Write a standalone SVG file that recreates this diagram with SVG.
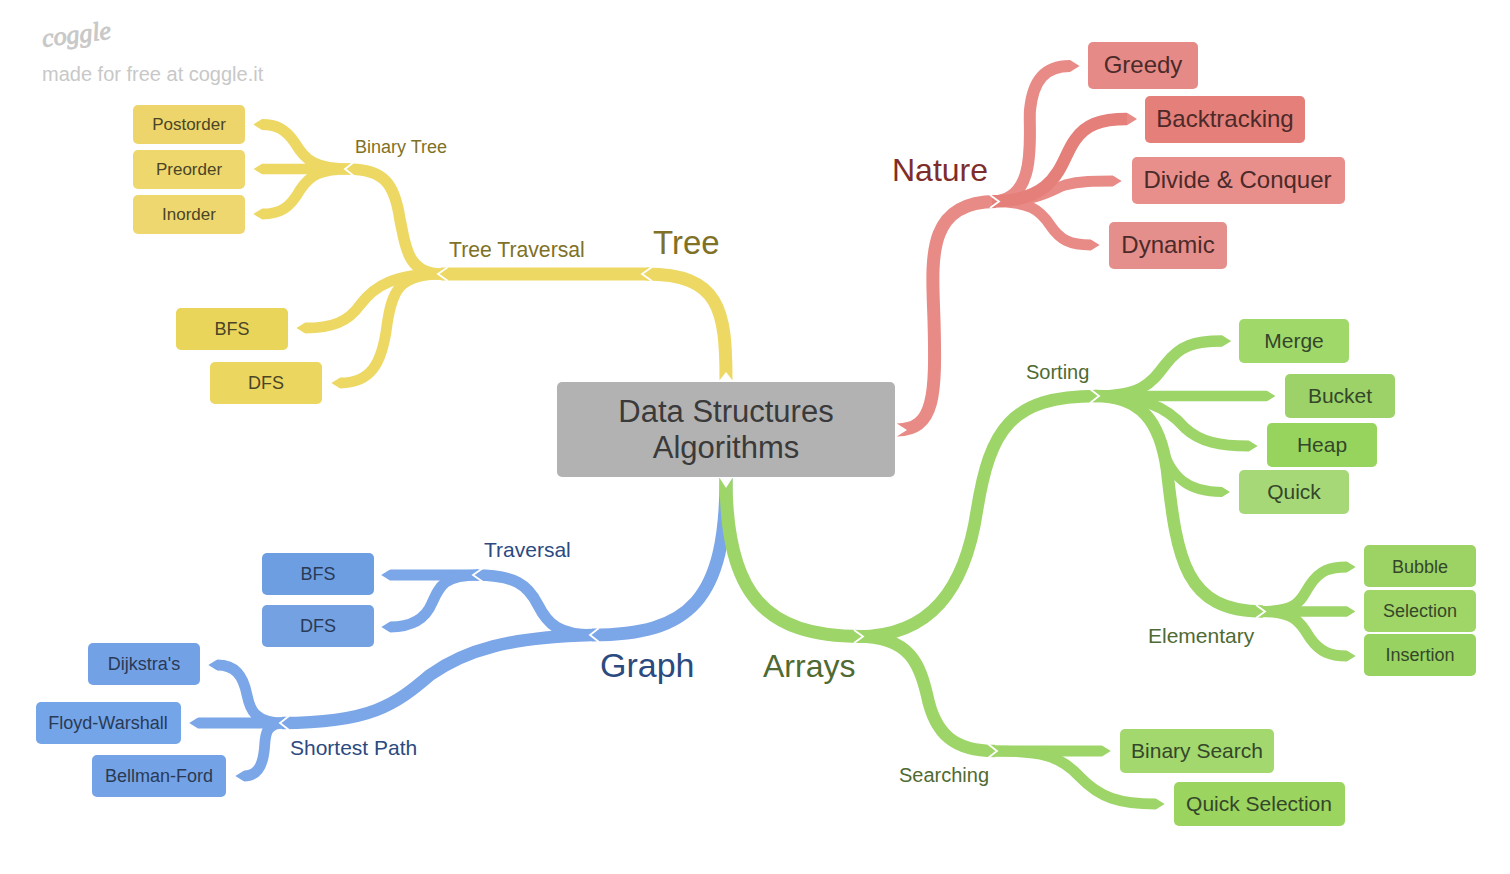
<svg xmlns="http://www.w3.org/2000/svg" width="1510" height="874" viewBox="0 0 1510 874">
<style>
text{font-family:"Liberation Sans",Arial,sans-serif;text-anchor:middle}
.c{fill:none;stroke-linecap:butt}
.y{stroke:#edd864}.r{stroke:#e88a86}.b{stroke:#7ba6e8}.g{stroke:#9dd568}
.chev{fill:none;stroke:#fff;stroke-width:1.8}
.notch{fill:#fff}
.lbl{text-anchor:start}
.ty{fill:#7f7126}.tr{fill:#7f2d2b}.tb{fill:#2b4a7f}.tg{fill:#4f6a33}
.ny{fill:#4b4526}.nr{fill:#4c2a29}.nb{fill:#2a3a55}.ng{fill:#34472a}
</style>
<defs>
<marker id="hy" markerUnits="strokeWidth" viewBox="0 -0.5 0.8 1" markerWidth="0.8" markerHeight="1" refX="0" refY="0" orient="auto"><polygon points="0,-0.5 0.8,0 0,0.5" fill="#edd864"/></marker>
<marker id="hr" markerUnits="strokeWidth" viewBox="0 -0.5 0.8 1" markerWidth="0.8" markerHeight="1" refX="0" refY="0" orient="auto"><polygon points="0,-0.5 0.8,0 0,0.5" fill="#e88a86"/></marker>
<marker id="hb" markerUnits="strokeWidth" viewBox="0 -0.5 0.8 1" markerWidth="0.8" markerHeight="1" refX="0" refY="0" orient="auto"><polygon points="0,-0.5 0.8,0 0,0.5" fill="#7ba6e8"/></marker>
<marker id="hg" markerUnits="strokeWidth" viewBox="0 -0.5 0.8 1" markerWidth="0.8" markerHeight="1" refX="0" refY="0" orient="auto"><polygon points="0,-0.5 0.8,0 0,0.5" fill="#9dd568"/></marker>
</defs>
<g id="connectors">
<path class="c b" stroke-width="13" d="M726 478 C726 600 690 635 592 635"/>
<path class="c b" stroke-width="11.500" d="M592 635 C560 635 548 625 538 605 C528 585 515 575 476 575"/>
<path class="c b" stroke-width="12.500" d="M592 635 C510 637 465 650 430 675 C395 705 370 723 282 723"/>
<path class="c b" stroke-width="11" marker-end="url(#hb)" d="M478 575 L390 575"/>
<path class="c b" stroke-width="10.800" marker-end="url(#hb)" d="M478 575 C445 575 440 585 432 603 C425 620 410 627 390 627"/>
<path class="c b" stroke-width="10.800" marker-end="url(#hb)" d="M284 723 C255 723 250 710 247 695 C243 675 235 665 217 665"/>
<path class="c b" stroke-width="11" marker-end="url(#hb)" d="M284 723 L198 723"/>
<path class="c b" stroke-width="10.800" marker-end="url(#hb)" d="M284 723 C262 723 266 740 264 752 C262 768 256 776 244 776"/>
<path class="c y" stroke-width="13" d="M726 380 C726 310 720 274 646 274"/>
<path class="c y" stroke-width="13" d="M650 274 L441 274"/>
<path class="c y" stroke-width="11.500" d="M441 274 C405 274 405 240 400 220 C395 185 385 169 348 169"/>
<path class="c y" stroke-width="10.800" marker-end="url(#hy)" d="M441 274 C395 274 375 285 360 305 C348 322 332 328 305 328"/>
<path class="c y" stroke-width="10.800" marker-end="url(#hy)" d="M441 274 C400 274 392 290 387 325 C382 365 370 383 340 383"/>
<path class="c y" stroke-width="10.800" marker-end="url(#hy)" d="M350 169 C315 169 305 160 295 143 C285 128 275 124.500 262 124.500"/>
<path class="c y" stroke-width="10.500" marker-end="url(#hy)" d="M350 169 L262 169"/>
<path class="c y" stroke-width="10.800" marker-end="url(#hy)" d="M350 169 C320 169 310 175 300 190 C290 208 280 214 262 214"/>
<path class="c r" stroke-width="13" d="M897 430 C935 430 936 395 934 320 C932 260 925 201.500 996 201.500"/>
<path class="c r" stroke-width="12" marker-end="url(#hr)" d="M992 201.500 C1040 201.500 1028 130 1030 110 C1033 80 1045 66 1070 66"/>
<path class="c r" stroke-width="10.800" marker-end="url(#hr)" d="M992 201.500 C1040 201.500 1050 190 1065 185 C1080 181 1095 181 1113 181"/>
<path class="c r" stroke-width="10.800" marker-end="url(#hr)" d="M992 201.500 C1030 201.500 1040 210 1050 225 C1060 240 1070 245 1091 245"/>
<path class="c r" style="stroke:#e57f7a" stroke-width="12.500" marker-end="url(#hr)" d="M992 201.500 C1060 201.500 1060 160 1075 140 C1085 125 1100 119 1127 119"/>
<path class="c g" stroke-width="13" d="M726 478 C726 595 765 636.500 861 636.500"/>
<path class="c g" stroke-width="12.500" d="M858 636.500 C930 636.500 965 590 977 510 C990 430 1010 396 1097 396"/>
<path class="c g" stroke-width="12.500" d="M858 636.500 C910 636.500 920 665 927 695 C935 735 955 751 995 751"/>
<path class="c g" stroke-width="12.500" d="M1095 396 C1140 396 1160 420 1167 470 C1177 560 1185 611.500 1263 611.500"/>
<path class="c g" stroke-width="11.500" marker-end="url(#hg)" d="M1095 396 C1140 396 1150 385 1165 365 C1180 345 1195 341 1222 341"/>
<path class="c g" stroke-width="10.500" marker-end="url(#hg)" d="M1095 396 L1267 396"/>
<path class="c g" stroke-width="10.800" marker-end="url(#hg)" d="M1095 396 C1140 396 1165 405 1185 428 C1200 442 1220 446 1249 446"/>
<path class="c g" stroke-width="10" marker-end="url(#hg)" d="M1160 440 C1170 480 1190 492 1222 492"/>
<path class="c g" stroke-width="10.800" marker-end="url(#hg)" d="M1260 611.500 C1300 611.500 1300 600 1310 585 C1320 570 1330 567 1347 567"/>
<path class="c g" stroke-width="10.500" marker-end="url(#hg)" d="M1260 611.500 L1347 611.500"/>
<path class="c g" stroke-width="10.800" marker-end="url(#hg)" d="M1260 611.500 C1295 611.500 1300 622 1310 638 C1320 652 1330 656 1347 656"/>
<path class="c g" stroke-width="11" marker-end="url(#hg)" d="M992 751 L1102 751"/>
<path class="c g" stroke-width="10.800" marker-end="url(#hg)" d="M992 751 C1040 751 1060 755 1080 777 C1100 798 1120 804 1156 804"/>
<g id="joints">
<polygon class="notch" points="719,381 726,372 733,381"/>
<polygon class="notch" points="719,477 726,488 733,477"/>
<polygon class="notch" points="896,423 907,430 896,437"/>
<polyline class="chev" points="652,267 642,274 652,281"/>
<polyline class="chev" points="448,267 438,274 448,281"/>
<polyline class="chev" points="354,162 345,169 354,176"/>
<polyline class="chev" points="483,568 473,575 483,582"/>
<polyline class="chev" points="599,628 590,635 599,642"/>
<polyline class="chev" points="289,716 280,723 289,730"/>
<polyline class="chev" points="990,195 999,201.500 990,208"/>
<polyline class="chev" points="854,630 863,636.500 854,643"/>
<polyline class="chev" points="1090,389 1099,396 1090,403"/>
<polyline class="chev" points="1256,605 1265,611.500 1256,618"/>
<polyline class="chev" points="988,744 997,751 988,758"/>
</g>
</g>
<g id="watermark">
<text class="lbl" x="43" y="47" font-size="26" font-style="italic" transform="rotate(-7 43 47)" style="font-family:'Liberation Serif',serif;fill:#c8c8c8;stroke:#c8c8c8;stroke-width:.9">coggle</text>
<text class="lbl" x="42" y="81" font-size="20" fill="#c8c8c8">made for free at coggle.it</text>
</g>
<g id="root"><rect x="557" y="382" width="338" height="95" rx="5" fill="#b2b2b2"/><text x="726" y="422" font-size="31" fill="#3a3a3a">Data Structures</text><text x="726" y="458" font-size="31" fill="#3a3a3a">Algorithms</text></g>
<g id="tree"><text class="lbl ty" x="653" y="254" font-size="33">Tree</text></g>
<g id="tree-traversal"><text class="lbl ty" x="449" y="257" font-size="21.200">Tree Traversal</text></g>
<g id="binary-tree"><text class="lbl ty" x="355" y="153" font-size="18">Binary Tree</text></g>
<g id="postorder"><rect x="133" y="105" width="112" height="39" rx="5" fill="#edd56c"/><text class="ny" x="189" y="130" font-size="17">Postorder</text></g>
<g id="preorder"><rect x="133" y="150" width="112" height="39" rx="5" fill="#eed76d"/><text class="ny" x="189" y="175" font-size="17">Preorder</text></g>
<g id="inorder"><rect x="133" y="195" width="112" height="39" rx="5" fill="#eed76f"/><text class="ny" x="189" y="220" font-size="17">Inorder</text></g>
<g id="bfs-tree"><rect x="176" y="308" width="112" height="42" rx="5" fill="#ead55b"/><text class="ny" x="232" y="335" font-size="18">BFS</text></g>
<g id="dfs-tree"><rect x="210" y="362" width="112" height="42" rx="5" fill="#ebd65f"/><text class="ny" x="266" y="389" font-size="18">DFS</text></g>
<g id="nature"><text class="lbl tr" x="892" y="181" font-size="32">Nature</text></g>
<g id="greedy"><rect x="1088" y="42" width="110" height="47" rx="5" fill="#e58a87"/><text class="nr" x="1143" y="73" font-size="24">Greedy</text></g>
<g id="backtracking"><rect x="1145" y="96" width="160" height="47" rx="5" fill="#e57f7a"/><text class="nr" x="1225" y="127" font-size="24">Backtracking</text></g>
<g id="divide"><rect x="1132" y="157" width="213" height="47" rx="5" fill="#e88f8c"/><text class="nr" x="1237.500" y="188" font-size="24">Divide &amp; Conquer</text></g>
<g id="dynamic"><rect x="1109" y="222" width="118" height="47" rx="5" fill="#e58f8c"/><text class="nr" x="1168" y="253" font-size="24">Dynamic</text></g>
<g id="arrays"><text class="lbl tg" x="763" y="677" font-size="32">Arrays</text></g>
<g id="sorting"><text class="lbl tg" x="1026" y="379" font-size="20">Sorting</text></g>
<g id="merge"><rect x="1239" y="319" width="110" height="44" rx="5" fill="#a0d86a"/><text class="ng" x="1294" y="348" font-size="21">Merge</text></g>
<g id="bucket"><rect x="1285" y="374" width="110" height="44" rx="5" fill="#9cd268"/><text class="ng" x="1340" y="403" font-size="21">Bucket</text></g>
<g id="heap"><rect x="1267" y="423" width="110" height="44" rx="5" fill="#97d45d"/><text class="ng" x="1322" y="452" font-size="21">Heap</text></g>
<g id="quick"><rect x="1239" y="470" width="110" height="44" rx="5" fill="#a6d878"/><text class="ng" x="1294" y="499" font-size="21">Quick</text></g>
<g id="elementary"><text class="lbl tg" x="1148" y="643" font-size="21">Elementary</text></g>
<g id="bubble"><rect x="1364" y="545" width="112" height="42" rx="5" fill="#9dd264"/><text class="ng" x="1420" y="573" font-size="18">Bubble</text></g>
<g id="selection"><rect x="1364" y="590" width="112" height="42" rx="5" fill="#a0d568"/><text class="ng" x="1420" y="617" font-size="18">Selection</text></g>
<g id="insertion"><rect x="1364" y="634" width="112" height="42" rx="5" fill="#98d260"/><text class="ng" x="1420" y="661" font-size="18">Insertion</text></g>
<g id="searching"><text class="lbl tg" x="899" y="782" font-size="20">Searching</text></g>
<g id="binary-search"><rect x="1120" y="729" width="154" height="44" rx="5" fill="#a2d86e"/><text class="ng" x="1197" y="758" font-size="21">Binary Search</text></g>
<g id="quick-selection"><rect x="1174" y="782" width="171" height="44" rx="5" fill="#9bd45e"/><text class="ng" x="1259" y="811" font-size="21">Quick Selection</text></g>
<g id="graph"><text class="lbl tb" x="600" y="677" font-size="34">Graph</text></g>
<g id="traversal"><text class="lbl tb" x="484" y="557" font-size="21">Traversal</text></g>
<g id="bfs-graph"><rect x="262" y="553" width="112" height="42" rx="5" fill="#6d9ee2"/><text class="nb" x="318" y="580" font-size="18">BFS</text></g>
<g id="dfs-graph"><rect x="262" y="605" width="112" height="42" rx="5" fill="#73a1e2"/><text class="nb" x="318" y="632" font-size="18">DFS</text></g>
<g id="shortest-path"><text class="lbl tb" x="290" y="755" font-size="21">Shortest Path</text></g>
<g id="dijkstra"><rect x="88" y="643" width="112" height="42" rx="5" fill="#73a1e6"/><text class="nb" x="144" y="670" font-size="18">Dijkstra's</text></g>
<g id="floyd"><rect x="36" y="702" width="145" height="42" rx="5" fill="#74a5e8"/><text class="nb" x="108" y="729" font-size="18">Floyd-Warshall</text></g>
<g id="bellman"><rect x="92" y="755" width="134" height="42" rx="5" fill="#73a3e6"/><text class="nb" x="159" y="782" font-size="18">Bellman-Ford</text></g>
</svg>
